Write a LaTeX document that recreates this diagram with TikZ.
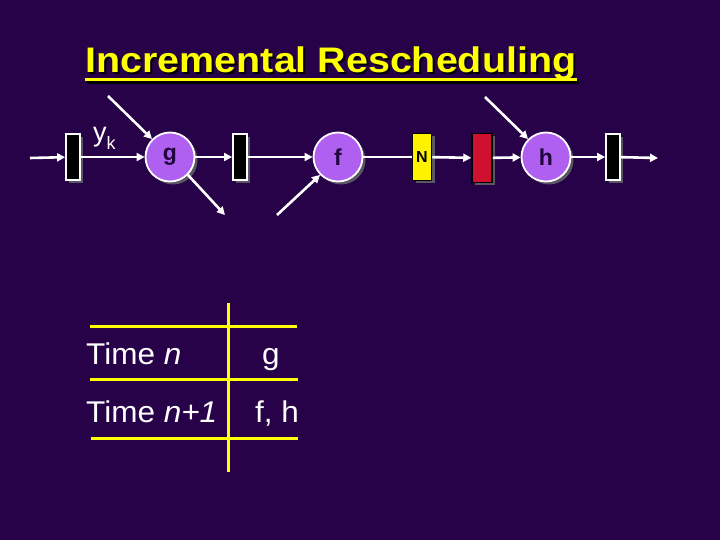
\documentclass[tikz,border=0pt]{standalone}
\usepackage{fontspec}
\setmainfont{Liberation Sans}
\usetikzlibrary{arrows.meta,shadows}
\definecolor{bg}{RGB}{40,2,72}
\definecolor{circ}{RGB}{176,96,240}
\definecolor{ttl}{RGB}{255,255,0}
\definecolor{shd}{RGB}{90,86,100}
\definecolor{regred}{RGB}{208,16,48}
\definecolor{optext}{RGB}{30,5,60}
\newcommand{\ttlstr}{\scalebox{1.11}[1]{Incremental Rescheduling}}
\begin{document}
\begin{tikzpicture}[x=1pt,y=-1pt,
  wire/.style={white,line width=2.6pt,-{Triangle[length=8pt,width=8pt]}},
  plain/.style={white,line width=2.6pt},
  sh/.style={drop shadow={shadow xshift=3pt,shadow yshift=-3pt,fill=shd,opacity=1}},
  reg/.style={rectangle,draw=white,fill=black,line width=1.8pt,minimum width=14pt,minimum height=46pt,inner sep=0pt,sh},
  op/.style={circle,draw=white,fill=circ,line width=1.8pt,minimum size=49pt,inner sep=0pt,font=\bfseries\fontsize{23}{23}\selectfont,text=optext,sh},
  tline/.style={ttl,line width=3pt},
  ttext/.style={white,font=\fontsize{30}{30}\selectfont,inner sep=0pt}]
\fill[bg] (0,0) rectangle (720,540);
\useasboundingbox (0,0) rectangle (720,540);
% title (with its dark shadow inside the same node)
\node[anchor=base west,inner sep=0pt,text=ttl,font=\bfseries\fontsize{35.5}{35.5}\selectfont] (title) at (85.5,73)
  {\makebox[0pt][l]{\hspace{2pt}\raisebox{-2pt}{\color{black}\ttlstr}}\ttlstr};
\fill[black] (87,80.5) rectangle (579,84);
\fill[ttl] (85,78.5) rectangle (577,81.5);
% pipeline
\coordinate (in) at (30,158);
\node[reg] (r1) at (73,157) {};
\node[op] (g) at (170,157) {g};
\node[reg] (r2) at (240,157) {};
\node[op] (f) at (338,157) {f};
\node[rectangle,draw=black,fill=yellow,line width=1.5pt,minimum width=19pt,minimum height=47pt,inner sep=0pt,font=\bfseries\fontsize{16}{16}\selectfont,sh] (N) at (422,157) {N};
\node[rectangle,draw=black,fill=regred,line width=1.5pt,minimum width=20pt,minimum height=49pt,inner sep=0pt,sh] (red) at (482,158) {};
\node[op] (h) at (546,157) {h};
\node[reg] (r3) at (613,157) {};
\coordinate (out) at (658,158);
\coordinate (gin) at (108,96);
\coordinate (gout) at (225,215);
\coordinate (fin) at (277,215);
\coordinate (hin) at (485,97);
\draw[wire] (in) -- (r1);
\draw[wire] (r1) -- (g);
\draw[wire] (g) -- (r2);
\draw[wire] (r2) -- (f);
\draw[plain] (f) -- (N);
\draw[wire] (N) -- (red);
\draw[wire] (red) -- (h);
\draw[wire] (h) -- (r3);
\draw[wire] (r3) -- (out);
\draw[wire] (gin) -- (g.135);
\draw[wire] (g.-45) -- (gout);
\draw[wire] (fin) -- (f.-135);
\draw[wire] (hin) -- (h.135);
\node[anchor=base west,inner sep=0pt,text=white,font=\fontsize{27}{27}\selectfont] (yk) at (93,142) {y{\fontsize{18}{18}\selectfont\raisebox{-8pt}{k}}};
% table
\coordinate (vt) at (228,303);
\coordinate (vb) at (228,472);
\coordinate (h1l) at (90,326);
\coordinate (h1r) at (297,326);
\coordinate (h2l) at (90,379);
\coordinate (h2r) at (298,379);
\coordinate (h3l) at (91,438);
\coordinate (h3r) at (298,438);
\draw[tline] (vt) -- (vb);
\draw[tline] (h1l) -- (h1r);
\draw[tline] (h2l) -- (h2r);
\draw[tline] (h3l) -- (h3r);
\node[ttext,anchor=base west] (t1) at (86,364) {\scalebox{1.05}[1]{Time \textit{n}}};
\node[ttext,anchor=base] (v1) at (271,364) {\scalebox{1.05}[1]{g}};
\node[ttext,anchor=base west] (t2) at (86,422) {\scalebox{1.05}[1]{Time \textit{n+1}}};
\node[ttext,anchor=base] (v2) at (277,422) {\scalebox{1.05}[1]{f, h}};
\end{tikzpicture}
\end{document}
